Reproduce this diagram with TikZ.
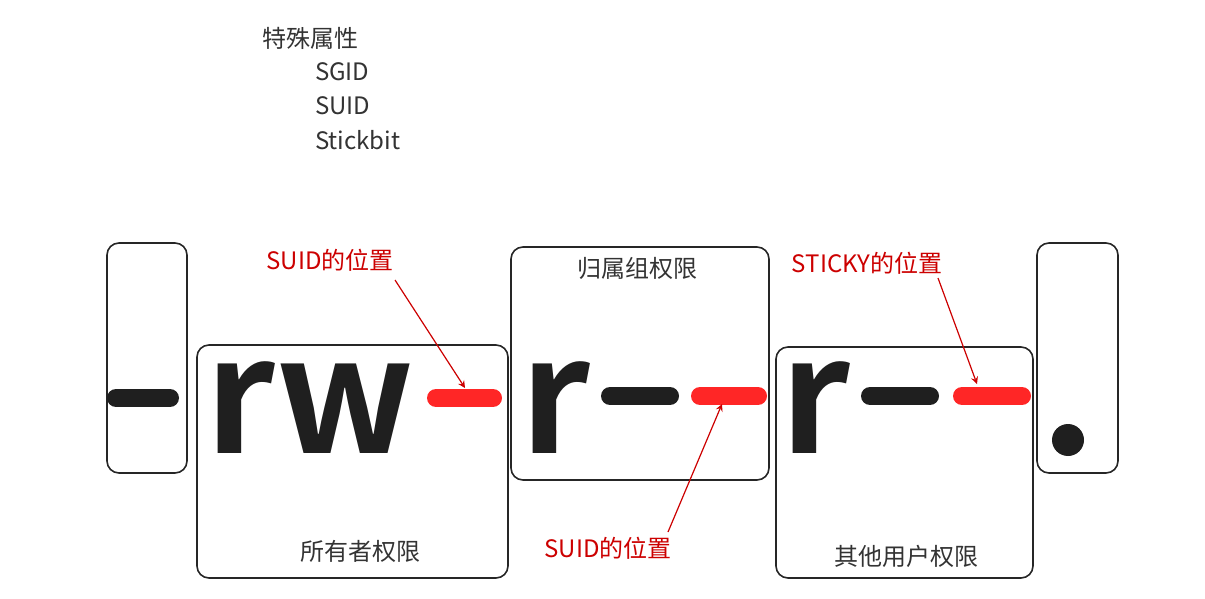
\documentclass[tikz,border=0pt]{standalone}
\usepackage{fontspec}
\setmainfont{Noto Sans CJK SC}
\newfontfamily\bigf{Noto Sans CJK SC Bold}
\begin{document}
\begin{tikzpicture}[x=0.5pt,y=-0.5pt,
 box/.style={draw=black!85,line width=0.8pt,rounded corners=6pt},
 lab/.style={font=\fontsize{12}{14}\selectfont,text=black!80},
 red/.style={font=\fontsize{12}{14}\selectfont,text=red!80!black},
 big/.style={font=\bigf\fontsize{80}{80}\selectfont,text=black!88,inner sep=0},
 dash/.style={line width=9pt,line cap=round,draw=#1},
 arr/.style={draw=red!80!black,line width=0.6pt,-stealth}]
\useasboundingbox (0,0) rectangle (1205,599);
\draw[box] (107,243) rectangle (187,473);
\draw[box] (197,345) rectangle (508,578);
\draw[box] (511,247) rectangle (769,480);
\draw[box] (776,347) rectangle (1033,578);
\draw[box] (1037,243) rectangle (1118,473);
\node[lab] (own) at (360,551) {所有者权限};
\node[lab] (grp) at (637,268) {归属组权限};
\node[lab] (oth) at (906,556) {其他用户权限};
\node[lab,anchor=west] (t0) at (255,38) {特殊属性};
\node[lab,anchor=west] (t1) at (308,72) {SGID};
\node[lab,anchor=west] (t2) at (308,106) {SUID};
\node[lab,anchor=west] (t3) at (308,140) {Stickbit};
\draw[dash=black!88] (116,398) -- (170,398);
\node[big] (rw) at (310,408) {rw};
\draw[dash=red!85] (436,398) -- (493,398);
\node[big] (r1) at (555,408) {r};
\draw[dash=black!88] (610,396) -- (670,396);
\draw[dash=red!85] (700,396) -- (758,396);
\node[big] (r2) at (815,408) {r};
\draw[dash=black!88] (870,396) -- (930,396);
\draw[dash=red!85] (962,396) -- (1022,396);
\fill[black!88] (1068,440) circle (16);
\coordinate (d1) at (465,388);
\coordinate (d2) at (722,404);
\coordinate (d3) at (977,384);
\node[red] (s1) at (330,260) {SUID的位置};
\node[red] (s2) at (608,548) {SUID的位置};
\node[red] (s3) at (867,263) {STICKY的位置};
\draw[arr] (395,280) -- (d1);
\draw[arr] (668,532) -- (d2);
\draw[arr] (938,278) -- (d3);
\end{tikzpicture}
\end{document}
